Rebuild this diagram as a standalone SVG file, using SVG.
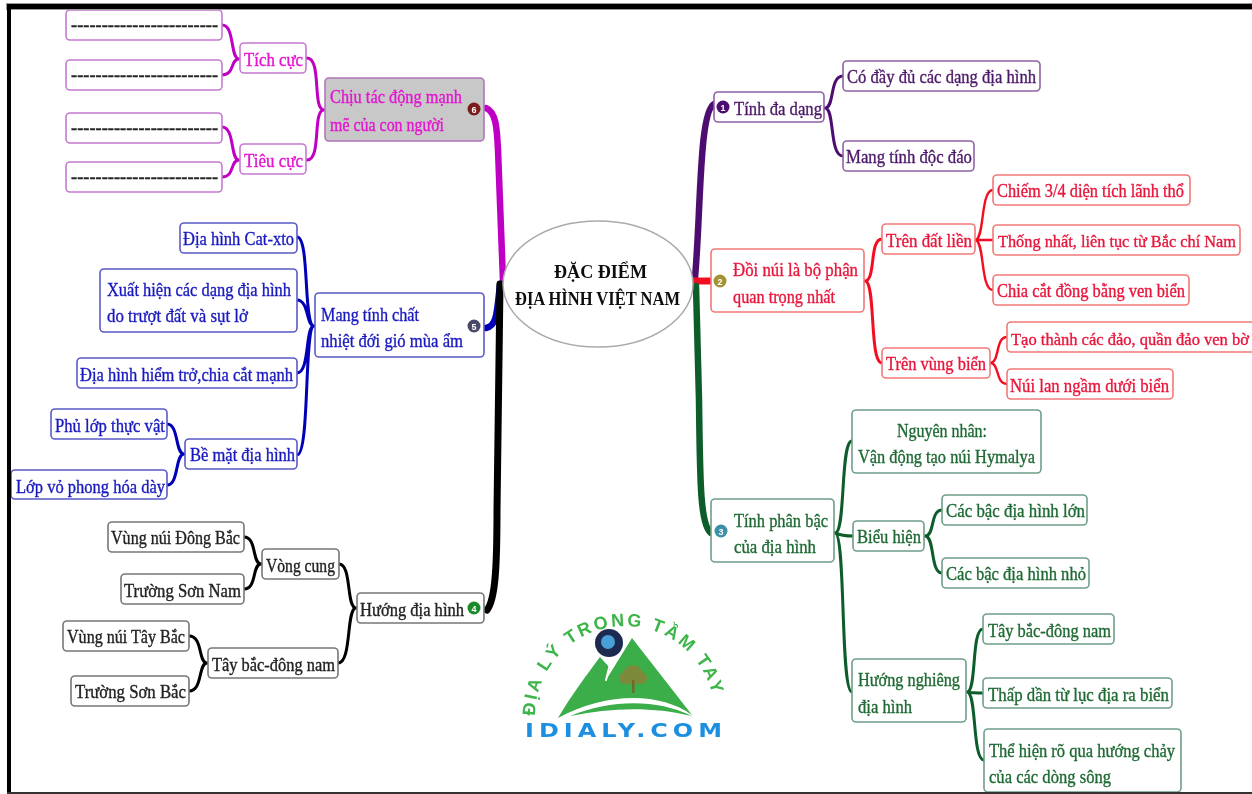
<svg xmlns="http://www.w3.org/2000/svg" width="1252" height="794" viewBox="0 0 1252 794">
<style>
text{font-family:"Liberation Serif","Times New Roman",serif;font-size:18px;stroke-width:.35px}
rect.n{rx:4px;ry:4px;fill:#fff;stroke-width:1.6px}
.m rect{stroke:#c47ad0}.m text{fill:#e414d0;stroke:#e414d0}
.b rect{stroke:#5a5ac8}.b text{fill:#1a1ac0;stroke:#1a1ac0}
.k rect{stroke:#777}.k text{fill:#222;stroke:#222}
.p rect{stroke:#8f62a6}.p text{fill:#4d1a68;stroke:#4d1a68}
.r rect{stroke:#f27878}.r text{fill:#e8163c;stroke:#e8163c}
.g rect{stroke:#6f9f88}.g text{fill:#1f6a34;stroke:#1f6a34}
.d text{fill:#222;stroke:#222;font-weight:bold}
.badge{fill:#fff;font-family:"Liberation Sans",Arial,sans-serif;font-size:9px;font-weight:bold;text-anchor:middle;stroke:none}
path{fill:none;stroke-linecap:round}
.c6{stroke:#bf00c4}.c5{stroke:#0000b8}.c4{stroke:#000}.c1{stroke:#4d0f70}.c2{stroke:#f21020}.c3{stroke:#0b5c2c}
.t{stroke-width:3}.t2{stroke-width:2.4}.main{stroke-width:6.5}
</style>
<defs><filter id="soft" x="0" y="0" width="100%" height="100%"><feGaussianBlur stdDeviation="0.45"/></filter></defs>
<rect width="1252" height="794" fill="#fff"/>
<g id="frame">
<rect x="6" y="3" width="1246" height="7" fill="#999"/>
<rect x="7" y="4" width="1245" height="5" fill="#000"/>
<rect x="7" y="4" width="4" height="790" fill="#000"/>
<rect x="7" y="792" width="1245" height="2" fill="#333"/>
</g>
<g filter="url(#soft)">
<g id="connectors">
<path class="c6 main" d="M486 108C496 112 497 128 498 150L503 281"/>
<path class="c5 main" d="M486 328C497 326 497 312 500 284"/>
<path class="c4 main" style="stroke-width:7" d="M487 610C495 600 497 570 497 510L500 284"/>
<path class="c1 main" d="M695 278C701 210 699 112 714 104"/>
<path class="c2 main" style="stroke-width:7;stroke-linecap:butt" d="M693 281H711"/>
<path class="c3 main" d="M696 286L699 400C700 480 700 525 711 533"/>
<path class="c6 t" d="M324 110C312 110 322 58 307 58M324 110C312 110 322 160 307 160M239 59C230 59 235 25 222 25M239 59C230 59 235 75 222 75M239 160C230 160 235 127 222 127M239 160C230 160 235 177 222 177"/>
<path class="c5 t" d="M314 326C303 326 310 237 297 237M314 326C306 326 309 300 297 300M314 326C305 326 310 373 297 373M314 326C304 326 310 455 297 455M184 454C175 454 179 424 167 424M184 454C175 454 179 485 167 485"/>
<path class="c4 t" d="M356 608C346 608 352 564 339 564M356 608C346 608 352 663 338 663M261 564C252 564 257 537 244 537M261 564C252 564 257 589 244 589M207 663C198 663 203 636 189 636M207 663C198 663 203 691 189 691"/>
<path class="c1 t" d="M825 108C835 108 829 76 843 76M825 108C835 108 829 156 843 156"/>
<path class="c2 t" d="M865 281C876 281 869 239 882 239M865 281C876 281 869 363 882 363"/>
<path class="c2 t2" d="M975 240C985 240 980 190 993 190M975 240H993M975 240C985 240 980 290 993 290M990 363C1000 363 995 337 1007 337M990 363C1000 363 995 384 1007 384"/>
<path class="c3 t" d="M835 533C846 533 840 441 852 441M835 533C842 536 846 536 853 536M835 533C846 533 840 692 852 692M925 536C935 536 930 510 942 510M925 536C935 536 930 573 942 573M967 692C977 692 971 629 983 629M967 692C973 693 977 693 983 693M967 692C977 692 972 760 984 760"/>
</g>
<g id="center"><ellipse cx="598" cy="284" rx="95" ry="63" fill="#fff" stroke="#aaa" stroke-width="1.5"/>
<text x="554" y="278" textLength="93" lengthAdjust="spacingAndGlyphs" font-weight="bold" fill="#111">ĐẶC ĐIỂM</text>
<text x="515" y="305" textLength="165" lengthAdjust="spacingAndGlyphs" font-weight="bold" fill="#111">ĐỊA HÌNH VIỆT NAM</text></g>

<g id="n6" class="m"><rect class="n" x="325" y="78" width="159" height="63" style="fill:#c8c8c8;stroke:#b274bc"/><text x="330" y="103" textLength="132" lengthAdjust="spacingAndGlyphs">Chịu tác động mạnh</text><text x="330" y="131" textLength="114" lengthAdjust="spacingAndGlyphs">mẽ của con người</text></g>
<g id="n6a" class="m"><rect class="n" x="240" y="43" width="66" height="30"/><text x="244" y="66" textLength="59" lengthAdjust="spacingAndGlyphs">Tích cực</text></g>
<g id="n6b" class="m"><rect class="n" x="240" y="144" width="66" height="30"/><text x="244" y="167" textLength="59" lengthAdjust="spacingAndGlyphs">Tiêu cực</text></g>
<g id="n6a1" class="m d"><rect class="n" x="66" y="10" width="156" height="30"/><text x="71" y="31" textLength="147" lengthAdjust="spacingAndGlyphs">------------------------</text></g>
<g id="n6a2" class="m d"><rect class="n" x="66" y="60" width="156" height="30"/><text x="71" y="81" textLength="147" lengthAdjust="spacingAndGlyphs">------------------------</text></g>
<g id="n6b1" class="m d"><rect class="n" x="66" y="113" width="156" height="30"/><text x="71" y="134" textLength="147" lengthAdjust="spacingAndGlyphs">------------------------</text></g>
<g id="n6b2" class="m d"><rect class="n" x="66" y="162" width="156" height="30"/><text x="71" y="183" textLength="147" lengthAdjust="spacingAndGlyphs">------------------------</text></g>

<g id="n5" class="b"><rect class="n" x="315" y="293" width="169" height="64"/><text x="321" y="321" textLength="98" lengthAdjust="spacingAndGlyphs">Mang tính chất</text><text x="321" y="347" textLength="142" lengthAdjust="spacingAndGlyphs">nhiệt đới gió mùa ẩm</text></g>
<g id="n5a" class="b"><rect class="n" x="180" y="223" width="117" height="30"/><text x="183" y="245" textLength="111" lengthAdjust="spacingAndGlyphs">Địa hình Cat-xto</text></g>
<g id="n5b" class="b"><rect class="n" x="100" y="269" width="197" height="63"/><text x="107" y="296" textLength="184" lengthAdjust="spacingAndGlyphs">Xuất hiện các dạng địa hình</text><text x="107" y="322" textLength="141" lengthAdjust="spacingAndGlyphs">do trượt đất và sụt lở</text></g>
<g id="n5c" class="b"><rect class="n" x="77" y="358" width="220" height="30"/><text x="80" y="381" textLength="213" lengthAdjust="spacingAndGlyphs">Địa hình hiểm trở,chia cắt mạnh</text></g>
<g id="n5d" class="b"><rect class="n" x="185" y="439" width="112" height="30"/><text x="190" y="461" textLength="105" lengthAdjust="spacingAndGlyphs">Bề mặt địa hình</text></g>
<g id="n5d1" class="b"><rect class="n" x="51" y="409" width="116" height="30"/><text x="55" y="432" textLength="110" lengthAdjust="spacingAndGlyphs">Phủ lớp thực vật</text></g>
<g id="n5d2" class="b"><rect class="n" x="11" y="470" width="156" height="29"/><text x="16" y="493" textLength="149" lengthAdjust="spacingAndGlyphs">Lớp vỏ phong hóa dày</text></g>

<g id="n4" class="k"><rect class="n" x="357" y="593" width="127" height="30"/><text x="360" y="616" textLength="104" lengthAdjust="spacingAndGlyphs">Hướng địa hình</text></g>
<g id="n4a" class="k"><rect class="n" x="262" y="549" width="77" height="30"/><text x="266" y="572" textLength="69" lengthAdjust="spacingAndGlyphs">Vòng cung</text></g>
<g id="n4b" class="k"><rect class="n" x="208" y="648" width="130" height="30"/><text x="212" y="671" textLength="123" lengthAdjust="spacingAndGlyphs">Tây bắc-đông nam</text></g>
<g id="n4a1" class="k"><rect class="n" x="108" y="522" width="136" height="30"/><text x="111" y="544" textLength="129" lengthAdjust="spacingAndGlyphs">Vùng núi Đông Bắc</text></g>
<g id="n4a2" class="k"><rect class="n" x="121" y="574" width="123" height="30"/><text x="124" y="597" textLength="117" lengthAdjust="spacingAndGlyphs">Trường Sơn Nam</text></g>
<g id="n4b1" class="k"><rect class="n" x="63" y="621" width="126" height="30"/><text x="67" y="643" textLength="118" lengthAdjust="spacingAndGlyphs">Vùng núi Tây Bắc</text></g>
<g id="n4b2" class="k"><rect class="n" x="71" y="676" width="118" height="30"/><text x="75" y="698" textLength="111" lengthAdjust="spacingAndGlyphs">Trường Sơn Bắc</text></g>

<g id="n1" class="p"><rect class="n" x="714" y="92" width="110" height="30"/><text x="734" y="115" textLength="88" lengthAdjust="spacingAndGlyphs">Tính đa dạng</text></g>
<g id="n1a" class="p"><rect class="n" x="843" y="61" width="197" height="30"/><text x="847" y="83" textLength="189" lengthAdjust="spacingAndGlyphs">Có đầy đủ các dạng địa hình</text></g>
<g id="n1b" class="p"><rect class="n" x="843" y="141" width="131" height="30"/><text x="846" y="163" textLength="126" lengthAdjust="spacingAndGlyphs">Mang tính độc đáo</text></g>

<g id="n2" class="r"><rect class="n" x="711" y="249" width="153" height="63"/><text x="733" y="276" textLength="125" lengthAdjust="spacingAndGlyphs">Đồi núi là bộ phận</text><text x="733" y="303" textLength="102" lengthAdjust="spacingAndGlyphs">quan trọng nhất</text></g>
<g id="n2a" class="r"><rect class="n" x="882" y="224" width="93" height="30"/><text x="886" y="247" textLength="86" lengthAdjust="spacingAndGlyphs">Trên đất liền</text></g>
<g id="n2b" class="r"><rect class="n" x="882" y="348" width="108" height="30"/><text x="886" y="370" textLength="100" lengthAdjust="spacingAndGlyphs">Trên vùng biển</text></g>
<g id="n2a1" class="r"><rect class="n" x="993" y="175" width="197" height="30"/><text x="997" y="197" textLength="187" lengthAdjust="spacingAndGlyphs">Chiếm 3/4 diện tích lãnh thổ</text></g>
<g id="n2a2" class="r"><rect class="n" x="993" y="225" width="247" height="30"/><text x="998" y="247" textLength="238" lengthAdjust="spacingAndGlyphs" style="font-size:16.5px">Thống nhất, liên tục từ Bắc chí Nam</text></g>
<g id="n2a3" class="r"><rect class="n" x="993" y="275" width="196" height="30"/><text x="997" y="297" textLength="188" lengthAdjust="spacingAndGlyphs">Chia cắt đồng bằng ven biển</text></g>
<g id="n2b1" class="r"><rect class="n" x="1007" y="322" width="250" height="30"/><text x="1011" y="345" textLength="238" lengthAdjust="spacingAndGlyphs" style="font-size:16px">Tạo thành các đảo, quần đảo ven bờ</text></g>
<g id="n2b2" class="r"><rect class="n" x="1007" y="369" width="166" height="30"/><text x="1010" y="392" textLength="159" lengthAdjust="spacingAndGlyphs">Núi lan ngầm dưới biển</text></g>

<g id="n3" class="g"><rect class="n" x="711" y="499" width="123" height="63"/><text x="734" y="527" textLength="94" lengthAdjust="spacingAndGlyphs">Tính phân bậc</text><text x="734" y="553" textLength="82" lengthAdjust="spacingAndGlyphs">của địa hình</text></g>
<g id="n3a" class="g"><rect class="n" x="852" y="410" width="189" height="63"/><text x="897" y="437" textLength="90" lengthAdjust="spacingAndGlyphs">Nguyên nhân:</text><text x="858" y="463" textLength="177" lengthAdjust="spacingAndGlyphs">Vận động tạo núi Hymalya</text></g>
<g id="n3b" class="g"><rect class="n" x="853" y="521" width="71" height="30"/><text x="857" y="543" textLength="64" lengthAdjust="spacingAndGlyphs">Biểu hiện</text></g>
<g id="n3b1" class="g"><rect class="n" x="942" y="495" width="145" height="30"/><text x="946" y="517" textLength="139" lengthAdjust="spacingAndGlyphs">Các bậc địa hình lớn</text></g>
<g id="n3b2" class="g"><rect class="n" x="942" y="558" width="147" height="30"/><text x="946" y="580" textLength="140" lengthAdjust="spacingAndGlyphs">Các bậc địa hình nhỏ</text></g>
<g id="n3c" class="g"><rect class="n" x="852" y="659" width="114" height="63"/><text x="858" y="686" textLength="102" lengthAdjust="spacingAndGlyphs">Hướng nghiêng</text><text x="858" y="713" textLength="54" lengthAdjust="spacingAndGlyphs">địa hình</text></g>
<g id="n3c1" class="g"><rect class="n" x="983" y="614" width="131" height="30"/><text x="988" y="637" textLength="123" lengthAdjust="spacingAndGlyphs">Tây bắc-đông nam</text></g>
<g id="n3c2" class="g"><rect class="n" x="983" y="678" width="189" height="30"/><text x="988" y="701" textLength="181" lengthAdjust="spacingAndGlyphs">Thấp dần từ lục địa ra biển</text></g>
<g id="n3c3" class="g"><rect class="n" x="984" y="729" width="197" height="63"/><text x="989" y="757" textLength="186" lengthAdjust="spacingAndGlyphs">Thể hiện rõ qua hướng chảy</text><text x="989" y="783" textLength="122" lengthAdjust="spacingAndGlyphs">của các dòng sông</text></g>

<g id="badges">
<circle cx="723" cy="107" r="6.5" fill="#4d0f70"/><text class="badge" x="723" y="110.500">1</text>
<circle cx="720" cy="281" r="6.5" fill="#a39334"/><text class="badge" x="720" y="284.500">2</text>
<circle cx="721" cy="531" r="6.500" fill="#3a8fa8"/><text class="badge" x="721" y="534.500">3</text>
<circle cx="474" cy="608" r="6.500" fill="#1a8a2a"/><text class="badge" x="474" y="611.500">4</text>
<circle cx="474" cy="326" r="6.500" fill="#4a4a68"/><text class="badge" x="474" y="329.500">5</text>
<circle cx="474" cy="109" r="6.500" fill="#7a1a1a"/><text class="badge" x="474" y="112.500">6</text>
</g>

<g id="logo">
<path style="fill:#3aad4a;stroke:none" d="M558 718C572 694 586 676 600 657L610 668L606 680L632 638L692 715C660 692 606 692 558 718Z"/>
<path style="fill:none;stroke:#fff;stroke-width:2" d="M606 680L611 660"/>
<path style="fill:#3aad4a;stroke:none" d="M570 716C610 700 655 698 692 716C650 706 610 708 570 716Z"/>
<circle cx="633" cy="675" r="10" fill="#7d8a3a"/>
<circle cx="625" cy="678" r="6" fill="#7d8a3a"/><circle cx="641" cy="678" r="6" fill="#7d8a3a"/>
<rect x="632" y="680" width="2.500" height="13" fill="#6f6a30"/>
<circle cx="609" cy="643" r="14" fill="#1a2a50"/><circle cx="608" cy="642" r="7" fill="#4a9fd8"/>
<defs><path id="arc" d="M535 716A90 90 0 0 1 715 716"/></defs>
<text style="font-family:'Liberation Sans',Arial,sans-serif;font-size:18px;font-weight:bold;letter-spacing:2.600px;fill:#3cb54a;stroke:none"><textPath href="#arc">ĐỊA LÝ TRONG TẦM TAY</textPath></text>
<text x="525" y="737" textLength="202" lengthAdjust="spacingAndGlyphs" style="font-family:'DejaVu Sans',sans-serif;font-size:19px;font-weight:bold;letter-spacing:4px;fill:#1f8fe0;stroke:none">IDIALY.COM</text>
</g>
</g>
</svg>
